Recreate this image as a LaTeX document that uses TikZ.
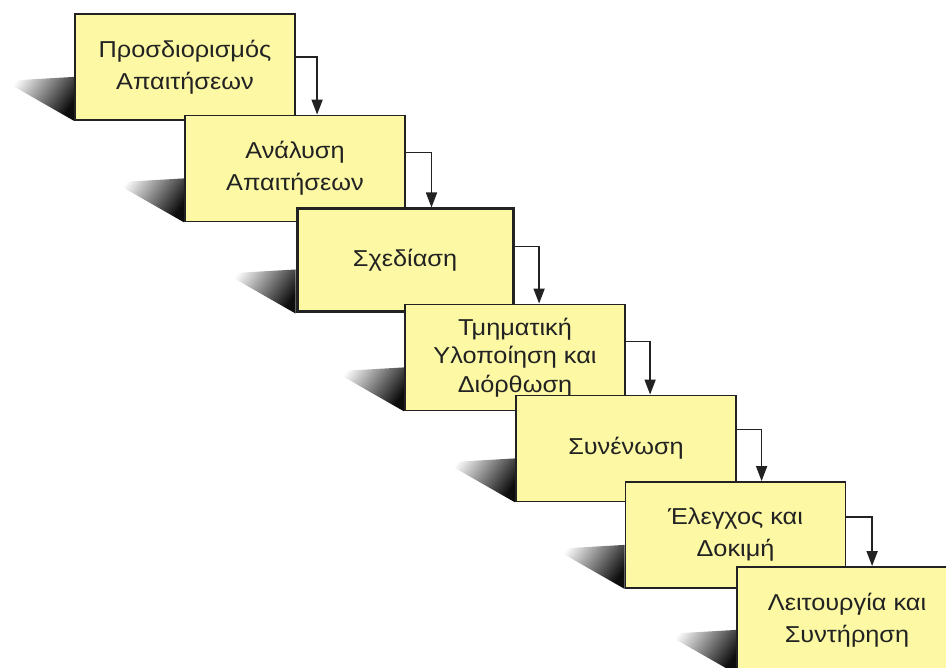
\documentclass[tikz,border=0pt]{standalone}
\usepackage{fontspec}
\setmainfont{Liberation Sans}[FakeStretch=1.1]
\usetikzlibrary{calc,arrows.meta,backgrounds}
\definecolor{boxfill}{HTML}{FCF8A4}
\definecolor{ink}{HTML}{222222}
\tikzset{
  phase/.style={draw=ink, line width=1.8pt, fill=boxfill, text=ink,
    minimum width=220pt, minimum height=106pt, align=center,
    font=\fontsize{23}{32}\selectfont, inner sep=0pt},
  keyphase/.style={phase, line width=3pt},
  flow/.style={draw=ink, line width=1.7pt,
    -{Triangle[length=15pt,width=11pt]}},
  shadowwedge/.style={shading=axis, top color=white, middle color=black!50,
    bottom color=black!95, shading angle=55}
}
% dark wedge cast to the lower left of a stage box
\newcommand{\wedgeshadow}[1]{%
  \shade[shadowwedge] ($(#1.south west)+(-70,-40)$) -- ($(#1.south west)+(0,-44)$)
    -- (#1.south west) -- cycle;}
\begin{document}
\begin{tikzpicture}[x=1pt,y=-1pt]
\useasboundingbox (0,0) rectangle (946,668);
\clip (0,0) rectangle (946,668);
% stage boxes, each later stage on top of the previous one
\node[phase] (b1) at (185,67) {Προσδιορισμός\\Απαιτήσεων};
\node[phase] (b2) at (295,168.5) {Ανάλυση\\Απαιτήσεων};
\node[keyphase, minimum width=216pt, minimum height=103pt] (b3) at (405,260.5) {Σχεδίαση};
\node[phase, font=\fontsize{23}{28.5}\selectfont] (b4) at (515,357.5) {Τμηματική\\Υλοποίηση και\\Διόρθωση};
\node[phase] (b5) at (626,448.5) {Συνένωση};
\node[phase] (b6) at (735.5,535) {Έλεγχος και\\Δοκιμή};
\node[phase] (b7) at (847,620) {Λειτουργία και\\Συντήρηση};
\begin{scope}[on background layer]
  \foreach \s in {b1,b2,b3,b4,b5,b6,b7} {\wedgeshadow{\s}}
\end{scope}
% hand-offs between consecutive stages
\draw[flow] ($(b1.north east)+(0,44)$) -| ($(b2.north west)+(133,0)$);
\draw[flow] ($(b2.north east)+(0,38)$) -| ($(b3.north west)+(136,0)$);
\draw[flow] ($(b3.north east)+(0,39)$) -| ($(b4.north west)+(135,0)$);
\draw[flow] ($(b4.north east)+(0,38)$) -| ($(b5.north west)+(135,0)$);
\draw[flow] ($(b5.north east)+(0,35)$) -| ($(b6.north west)+(137,0)$);
\draw[flow] ($(b6.north east)+(0,36)$) -| ($(b7.north west)+(136,0)$);
\end{tikzpicture}
\end{document}
